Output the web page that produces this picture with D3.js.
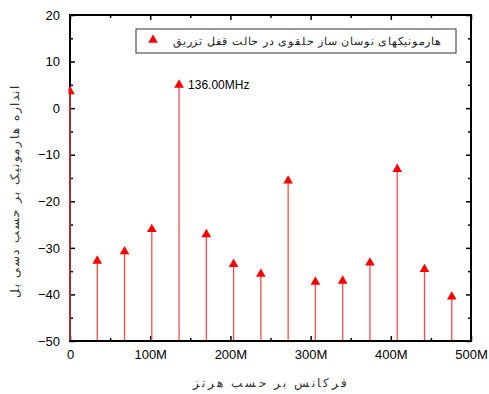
<!DOCTYPE html>
<html>
<head>
<meta charset="utf-8">
<script src="https://cdn.jsdelivr.net/npm/d3@7"></script>
<style>
  html, body { margin: 0; padding: 0; background: #fff; }
  svg { display: block; }
  text { font-family: "Liberation Sans", Arial, sans-serif; }
</style>
</head>
<body>
<svg id="chart" width="489" height="394"></svg>
<script>
// Harmonic frequencies (MHz) and their measured levels (dB)
const freqsMHz = [0, 34, 68, 102, 136, 170, 204, 238, 272, 306, 340, 374, 408, 442, 476];
const levelsDb = [3.6, -32.8, -30.8, -26.0, 5.0, -27.1, -33.5, -35.6, -15.6, -37.3, -37.1, -33.2, -13.1, -34.6, -40.5];
const xTicks = [0, 100, 200, 300, 400, 500];
const xTickLabels = ["0", "100M", "200M", "300M", "400M", "500M"];
const yTicks = [20, 10, 0, -10, -20, -30, -40, -50];
const peakLabel = "136.00MHz";
const legendText = "هارمونیکهای نوسان ساز حلقوی در حالت قفل تزریق";
const xTitle = "فرکانس بر حسب هرتز";
const yTitle = "اندازه هارمونیک بر حسب دسی بل";

const svg = d3.select("#chart");
const m = { left: 70, right: 471, top: 15, bottom: 341 };

const x = d3.scaleLinear().domain([0, 500]).range([m.left, m.right]);
const y = d3.scaleLinear().domain([-50, 20]).range([m.bottom, m.top]);

const red = "#ff0000";
const tri = d3.symbol().type(d3.symbolTriangle).size(40);

// axes on all four sides with inward ticks
const axisG = svg.append("g");
const xMinor = [50, 150, 250, 350, 450];
const yMinor = [15, 5, -5, -15, -25, -35, -45];

const gB = axisG.append("g").attr("transform", `translate(0,${m.bottom})`);
gB.call(d3.axisBottom(x).tickValues(xTicks).tickSize(-5).tickFormat((d, i) => xTickLabels[i]).tickPadding(9));
gB.append("g").call(d3.axisBottom(x).tickValues(xMinor).tickSize(-3).tickFormat(""));
const gT = axisG.append("g").attr("transform", `translate(0,${m.top})`);
gT.call(d3.axisTop(x).tickValues(xTicks).tickSize(-5).tickFormat(""));
gT.append("g").call(d3.axisTop(x).tickValues(xMinor).tickSize(-3).tickFormat(""));
const gL = axisG.append("g").attr("transform", `translate(${m.left},0)`);
gL.call(d3.axisLeft(y).tickValues(yTicks).tickSize(-5).tickFormat(d3.format("d")).tickPadding(10));
gL.append("g").call(d3.axisLeft(y).tickValues(yMinor).tickSize(-3).tickFormat(""));
const gR = axisG.append("g").attr("transform", `translate(${m.right},0)`);
gR.call(d3.axisRight(y).tickValues(yTicks).tickSize(-5).tickFormat(""));
gR.append("g").call(d3.axisRight(y).tickValues(yMinor).tickSize(-3).tickFormat(""));

axisG.selectAll(".domain").remove();
axisG.selectAll(".tick line").attr("stroke", "#000").attr("stroke-width", 1.5);
axisG.selectAll(".tick text").attr("font-size", 13).attr("fill", "#000")
  .attr("font-family", "'Liberation Sans', Arial, sans-serif");

// frame
svg.append("rect").attr("x", m.left).attr("y", m.top)
  .attr("width", m.right - m.left).attr("height", m.bottom - m.top)
  .attr("fill", "none").attr("stroke", "#000").attr("stroke-width", 2);

// clip for marks: they may overlap the left frame line
svg.append("defs").append("clipPath").attr("id", "plotClip")
  .append("rect").attr("x", m.left - 1.5).attr("y", m.top)
  .attr("width", m.right - m.left + 1.5).attr("height", m.bottom - m.top);

const marks = svg.append("g").attr("clip-path", "url(#plotClip)");

// stems from the bottom of the frame up to each level
marks.selectAll("line.stem").data(freqsMHz).join("line")
  .attr("class", "stem")
  .attr("x1", d => x(d)).attr("x2", d => x(d))
  .attr("y1", y(-50) - 1)
  .attr("y2", (d, i) => y(levelsDb[i]))
  .attr("stroke", "#ff4a4a").attr("stroke-width", 1.3);

marks.selectAll("path.mk").data(freqsMHz).join("path")
  .attr("class", "mk")
  .attr("d", tri)
  .attr("transform", (d, i) => `translate(${x(d)},${y(levelsDb[i])})`)
  .attr("fill", red);

// peak annotation
const pk = freqsMHz.indexOf(136);
svg.append("text")
  .attr("x", x(136) + 9).attr("y", y(levelsDb[pk]) + 4)
  .attr("font-size", 12).attr("fill", "#000")
  .text(peakLabel);

// legend
const lg = svg.append("g");
lg.append("rect").attr("x", 136).attr("y", 29).attr("width", 320).attr("height", 24)
  .attr("fill", "#fff").attr("stroke", "#333").attr("stroke-width", 1);
lg.append("path").attr("d", tri).attr("transform", "translate(153,40)").attr("fill", red);
lg.append("text").attr("x", 307).attr("y", 45).attr("text-anchor", "middle")
  .attr("font-size", 11).attr("fill", "#222")
  .attr("textLength", 268).attr("lengthAdjust", "spacing")
  .attr("font-family", "'DejaVu Sans', sans-serif")
  .text(legendText);

// axis titles
svg.append("text").attr("x", 270).attr("y", 387).attr("text-anchor", "middle")
  .attr("font-size", 12).attr("fill", "#333")
  .attr("textLength", 154).attr("lengthAdjust", "spacing")
  .attr("font-family", "'DejaVu Sans', sans-serif")
  .text(xTitle);
svg.append("text").attr("transform", "translate(19,192) rotate(-90)")
  .attr("text-anchor", "middle")
  .attr("font-size", 12).attr("fill", "#333")
  .attr("textLength", 212).attr("lengthAdjust", "spacing")
  .attr("font-family", "'DejaVu Sans', sans-serif")
  .text(yTitle);
</script>
</body>
</html>
